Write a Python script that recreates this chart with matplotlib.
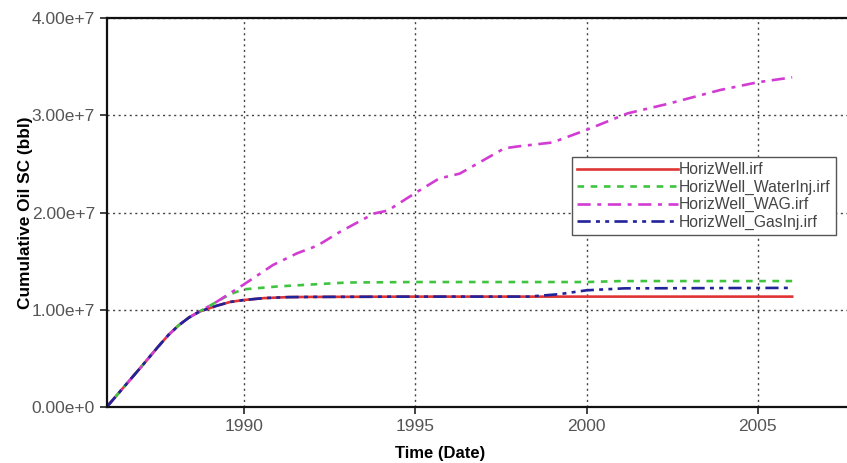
import matplotlib
matplotlib.use("Agg")
import matplotlib.pyplot as plt
from matplotlib.ticker import FuncFormatter

plt.rcParams['font.family'] = ['Liberation Sans', 'DejaVu Sans']

# cumulative oil production per run (time in decimal years, volume in bbl)
base_t = [1986.0, 1986.5, 1987.0, 1987.5, 1987.8, 1988.1, 1988.4, 1988.7]
base_v = [0.0, 2.05e6, 4.1e6, 6.2e6, 7.4e6, 8.4e6, 9.2e6, 9.8e6]

horiz_t = base_t + [1989.2, 1989.6, 1990.0, 1990.6, 1991.3, 1992.0, 1995.0, 2000.0, 2006.0]
horiz_v = base_v + [1.04e7, 1.08e7, 1.10e7, 1.12e7, 1.13e7, 1.132e7, 1.135e7, 1.135e7, 1.135e7]

water_t = base_t + [1989.2, 1989.6, 1990.0, 1990.5, 1991.0, 1992.0, 1993.0, 1995.0,
                    2000.0, 2001.0, 2006.0]
water_v = base_v + [1.08e7, 1.16e7, 1.21e7, 1.225e7, 1.24e7, 1.26e7, 1.28e7, 1.285e7,
                    1.285e7, 1.295e7, 1.295e7]

wag_t = base_t + [1989.2, 1989.6, 1990.0, 1990.85, 1991.55, 1992.15, 1992.8, 1993.8,
                  1994.2, 1995.0, 1995.7, 1996.3, 1997.1, 1997.6, 1998.0, 1999.0,
                  2000.0, 2001.2, 2002.4, 2003.9, 2005.0, 2006.0]
wag_v = base_v + [1.08e7, 1.17e7, 1.26e7, 1.46e7, 1.58e7, 1.66e7, 1.80e7, 1.99e7,
                  2.02e7, 2.20e7, 2.35e7, 2.40e7, 2.56e7, 2.66e7, 2.68e7, 2.72e7,
                  2.85e7, 3.02e7, 3.12e7, 3.26e7, 3.34e7, 3.39e7]

gas_t = base_t + [1989.2, 1989.6, 1990.0, 1990.6, 1991.3, 1992.0, 1995.0, 1998.3,
                  1999.2, 2000.0, 2001.1, 2006.0]
gas_v = base_v + [1.04e7, 1.08e7, 1.10e7, 1.12e7, 1.13e7, 1.132e7, 1.135e7, 1.135e7,
                  1.16e7, 1.20e7, 1.22e7, 1.225e7]

run_names = ['HorizWell.irf', 'HorizWell_WaterInj.irf', 'HorizWell_WAG.irf',
             'HorizWell_GasInj.irf']

fig = plt.figure(figsize=(8.47, 4.63), dpi=100)
ax = fig.add_axes([0.126, 0.121, 0.874, 0.840])

ax.plot(horiz_t, horiz_v, color='#e03535', lw=1.9, ls='-', label=run_names[0])
ax.plot(water_t, water_v, color='#3ec43e', lw=1.9, ls=(0, (2.5, 2.5)), label=run_names[1])
ax.plot(wag_t, wag_v, color='#d23cd2', lw=1.9, ls=(0, (5, 2.5, 1.5, 2.5)), label=run_names[2])
ax.plot(gas_t, gas_v, color='#22229a', lw=1.9,
        ls=(0, (5, 2, 1.5, 2, 1.5, 2)), label=run_names[3])

ax.set_xlim(1986.0, 2007.6)
ax.set_ylim(0, 4.0e7)
ax.set_xticks([1990, 1995, 2000, 2005])
ax.set_yticks([0, 1e7, 2e7, 3e7, 4e7])
ax.yaxis.set_major_formatter(FuncFormatter(
    lambda v, pos: '0.00e+0' if v == 0 else f'{v / 1e7:.2f}e+7'))

ax.grid(True, color='#444444', ls=(0, (1.5, 2.5)), lw=1.0)
ax.tick_params(axis='both', direction='out', length=5, width=1.2,
               labelsize=12.5, labelcolor='#555555', color='#222222')
for side in ('left', 'bottom', 'top'):
    ax.spines[side].set_linewidth(1.6)
    ax.spines[side].set_color('#111111')
ax.spines['right'].set_visible(False)

ax.set_xlabel('Time (Date)', fontsize=12, fontweight='bold')
ax.xaxis.set_label_coords(0.451, -0.1)
ax.set_ylabel('Cumulative Oil SC (bbl)', fontsize=12.4, fontweight='bold')
ax.yaxis.set_label_coords(-0.1, 0.5)

leg = ax.legend(loc='upper left', bbox_to_anchor=(0.628, 0.643), borderaxespad=0,
                fontsize=11.3, handlelength=6.4, handletextpad=0.1, labelspacing=0.15,
                borderpad=0.35, fancybox=False, framealpha=1.0,
                edgecolor='#555555', labelcolor='#444444')
leg.get_frame().set_linewidth(1.0)

fig.savefig('out.png', dpi=100)
